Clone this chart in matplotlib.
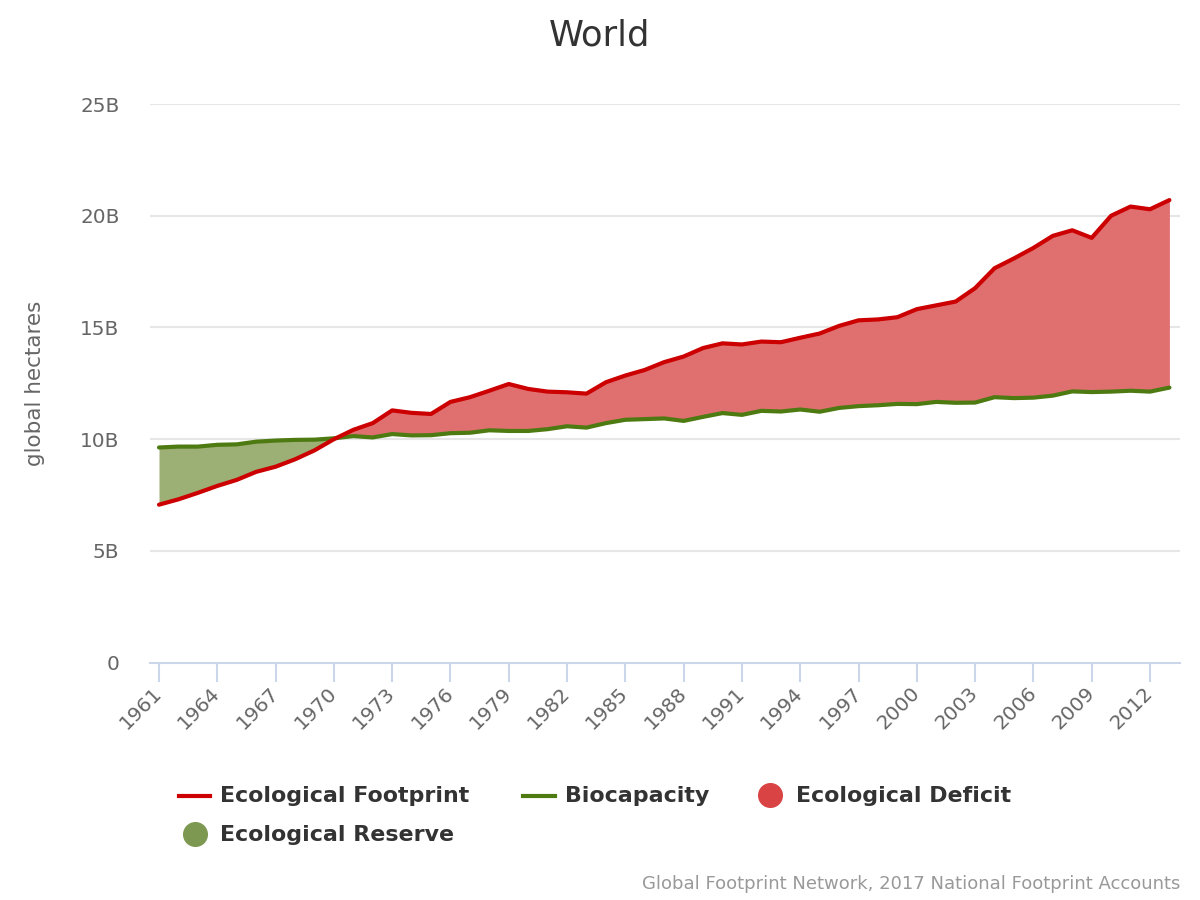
import matplotlib
matplotlib.use("Agg")
import matplotlib.pyplot as plt
from matplotlib.lines import Line2D
import numpy as np

years = list(range(1961, 2014))
footprint = [7.07, 7.31, 7.60, 7.91, 8.18, 8.54, 8.77, 9.10, 9.50, 10.00,
             10.42, 10.72, 11.29, 11.18, 11.13, 11.67, 11.88, 12.17, 12.47, 12.25,
             12.13, 12.10, 12.04, 12.55, 12.85, 13.10, 13.45, 13.70, 14.08, 14.29,
             14.24, 14.37, 14.34, 14.54, 14.73, 15.07, 15.32, 15.36, 15.46, 15.82,
             15.99, 16.16, 16.76, 17.65, 18.09, 18.56, 19.10, 19.35, 19.01, 20.00,
             20.41, 20.29, 20.70]
biocapacity = [9.63, 9.67, 9.67, 9.75, 9.77, 9.89, 9.94, 9.97, 9.98, 10.04,
               10.14, 10.08, 10.23, 10.17, 10.18, 10.27, 10.29, 10.40, 10.37, 10.37,
               10.45, 10.58, 10.52, 10.72, 10.87, 10.90, 10.93, 10.82, 11.00, 11.17,
               11.09, 11.27, 11.24, 11.33, 11.23, 11.40, 11.48, 11.52, 11.58, 11.57,
               11.67, 11.63, 11.64, 11.88, 11.84, 11.86, 11.95, 12.14, 12.11, 12.13,
               12.17, 12.13, 12.31]
tick_years = list(range(1961, 2013, 3))
y_ticks = [0, 5, 10, 15, 20, 25]
y_tick_labels = ["0", "5B", "10B", "15B", "20B", "25B"]

title = "World"
y_title = "global hectares"
legend_labels = ["Ecological Footprint", "Biocapacity", "Ecological Deficit", "Ecological Reserve"]
credit = "Global Footprint Network, 2017 National Footprint Accounts"

c_fp = "#cc0000"
c_bc = "#4e7a12"
c_def_fill = "#e07070"
c_res_fill = "#9caf74"
c_def_leg = "#d94343"
c_res_leg = "#7d9850"

W, H = 1200, 900
fig = plt.figure(figsize=(12, 9), dpi=100)
ax = fig.add_axes([150 / W, 1 - 662.7 / H, 1030 / W, (662.7 - 104) / H])

x = np.array(years, dtype=float)
fp = np.array(footprint)
bc = np.array(biocapacity)

ax.fill_between(x, bc, fp, where=fp >= bc, interpolate=True, color=c_def_fill, lw=0, zorder=2)
ax.fill_between(x, bc, fp, where=fp <= bc, interpolate=True, color=c_res_fill, lw=0, zorder=2)
ax.plot(x, bc, color=c_bc, lw=3, zorder=3, solid_capstyle="round", solid_joinstyle="round")
ax.plot(x, fp, color=c_fp, lw=3, zorder=4, solid_capstyle="round", solid_joinstyle="round")

ax.set_xlim(1960.537, 2013.545)
ax.set_ylim(0, 25)

for s in ["top", "right", "left"]:
    ax.spines[s].set_visible(False)
ax.spines["bottom"].set_color("#ccd6eb")
ax.spines["bottom"].set_linewidth(1.5)
ax.spines["bottom"].set_zorder(5)

ax.set_yticks(y_ticks)
ax.set_yticklabels(y_tick_labels)
ax.tick_params(axis="y", length=0, pad=22, labelsize=14.4, labelcolor="#666666")
ax.yaxis.grid(True, color="#e6e6e6", lw=1.5, zorder=0)
ax.set_axisbelow(True)
for gl in ax.yaxis.get_gridlines()[:1]:
    gl.set_visible(False)

ax.set_xticks(tick_years)
ax.set_xticklabels([str(t) for t in tick_years], rotation=45, ha="right",
                   rotation_mode="anchor")
ax.tick_params(axis="x", length=13.7, width=1.5, color="#ccd6eb", pad=6,
               labelsize=14.4, labelcolor="#666666")
for lab in ax.get_xticklabels():
    lab.set_va("center")

ax.set_ylabel(y_title, fontsize=15.5, color="#666666")
ax.yaxis.set_label_coords(-0.102, 0.5)

fig.text(0.5, 1 - 35 / H, title, ha="center", va="center", fontsize=25.5, color="#333333")

def fx(px):
    return px / W

def fy(py):
    return 1 - py / H

leg_fs = 15.9
# Row 1
fig.add_artist(Line2D([fx(179), fx(210)], [fy(796), fy(796)], color=c_fp, lw=3,
                      transform=fig.transFigure))
fig.text(fx(220), fy(796), legend_labels[0], ha="left", va="center",
         fontsize=leg_fs, fontweight="bold", color="#333333")
fig.add_artist(Line2D([fx(523), fx(555)], [fy(796), fy(796)], color=c_bc, lw=3,
                      transform=fig.transFigure))
fig.text(fx(565), fy(796), legend_labels[1], ha="left", va="center",
         fontsize=leg_fs, fontweight="bold", color="#333333")
fig.add_artist(Line2D([fx(770)], [fy(795)], marker="o", markersize=17, color=c_def_leg,
                      lw=0, transform=fig.transFigure))
fig.text(fx(796), fy(796), legend_labels[2], ha="left", va="center",
         fontsize=leg_fs, fontweight="bold", color="#333333")
# Row 2
fig.add_artist(Line2D([fx(195)], [fy(834)], marker="o", markersize=17, color=c_res_leg,
                      lw=0, transform=fig.transFigure))
fig.text(fx(220), fy(835), legend_labels[3], ha="left", va="center",
         fontsize=leg_fs, fontweight="bold", color="#333333")

fig.text(fx(1180), fy(884), credit, ha="right", va="center", fontsize=13, color="#999999")

fig.savefig("out.png", dpi=100, facecolor="white")
